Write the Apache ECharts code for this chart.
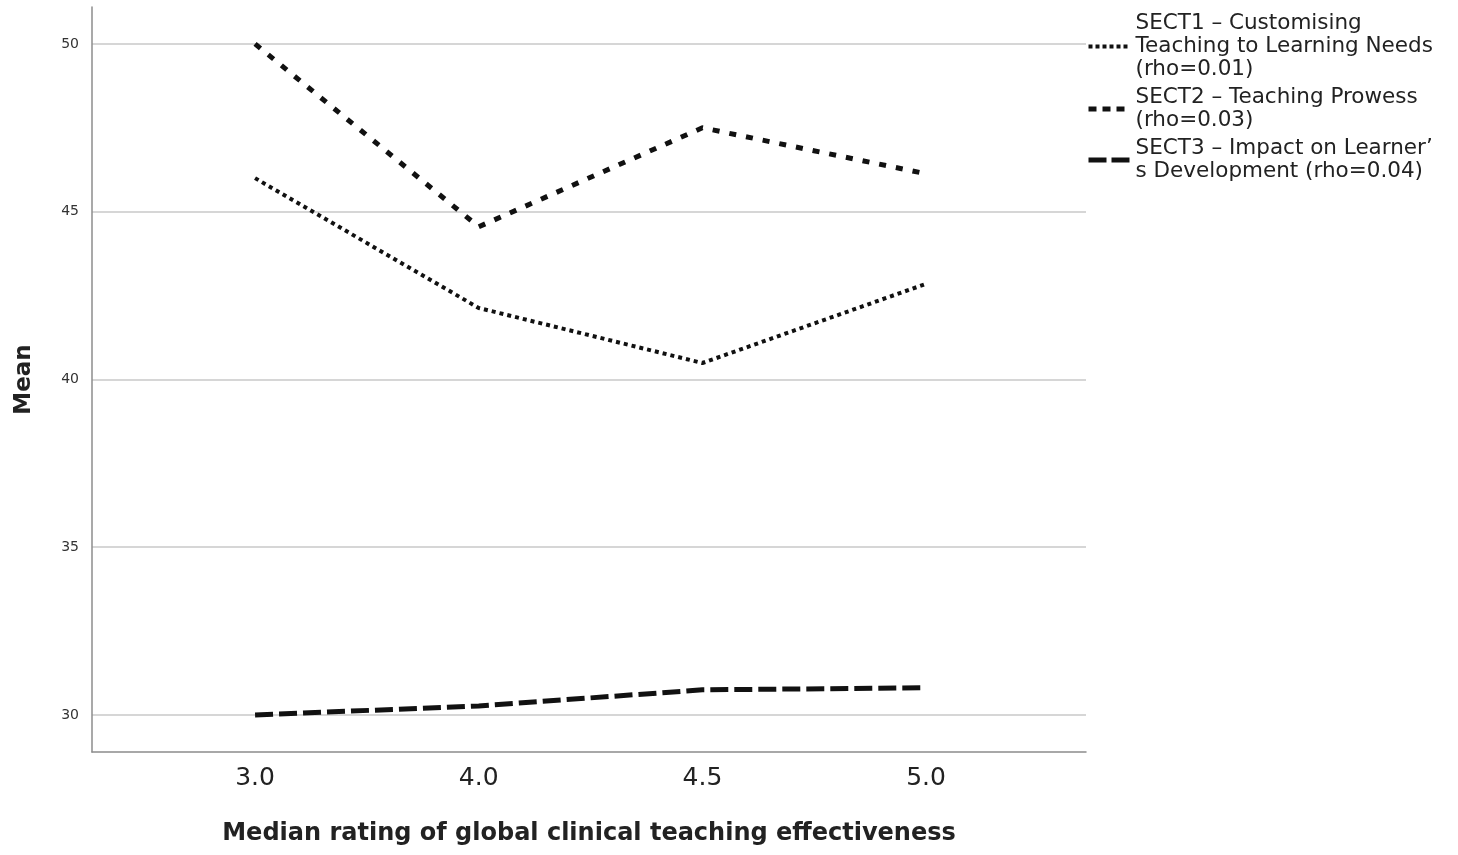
<!DOCTYPE html>
<html>
<head>
<meta charset="utf-8">
<script src="https://cdn.jsdelivr.net/npm/echarts@6/dist/echarts.min.js"></script>
<style>
html,body{margin:0;padding:0;background:#fff;}
#chart{width:1458px;height:855px;}
</style>
</head>
<body>
<div id="chart"></div>
<script>
// ---- data ----
const categories = ["3.0", "4.0", "4.5", "5.0"];
const seriesNames = [
  "SECT1 – Customising\nTeaching to Learning Needs\n(rho=0.01)",
  "SECT2 – Teaching Prowess\n(rho=0.03)",
  "SECT3 – Impact on Learner’\ns Development (rho=0.04)"
];
const sect1 = [46.0, 42.13, 40.49, 42.85];
const sect2 = [50.0, 44.55, 47.5, 46.13];
const sect3 = [30.0, 30.27, 30.75, 30.81];
const yTicks = [30, 35, 40, 45, 50];
const xAxisTitle = "Median rating of global clinical teaching effectiveness";
const yAxisTitle = "Mean";

// ---- styles ----
const FONT = "DejaVu Sans";
const lineStyles = [
  {width: 4, type: [4, 4], color: '#111'},
  {width: 5, type: [7, 10], color: '#111'},
  {width: 5, type: [18, 6], color: '#111'}
];
const legendLineStyles = [
  {width: 4, type: [4, 3], color: '#111'},
  {width: 5, type: [8, 6], color: '#111'},
  {width: 5, type: [18, 5], color: '#111'}
];
const catIdx = categories.map((c, i) => i);
const allValues = [sect1, sect2, sect3];

const chart = echarts.init(document.getElementById('chart'), null, {renderer: 'canvas'});
chart.setOption({
  animation: false,
  backgroundColor: '#fff',
  textStyle: {fontFamily: FONT},
  grid: {left: 92, right: 372, top: 7, bottom: 103, containLabel: false},
  legend: {
    orient: 'vertical',
    left: 1081,
    top: 7,
    itemWidth: 42,
    itemHeight: 14,
    itemGap: 5,
    itemStyle: {opacity: 0},
    textStyle: {fontFamily: FONT, fontSize: 21.5, lineHeight: 23, color: '#222'},
    data: seriesNames.map((n, s) => ({name: n, lineStyle: legendLineStyles[s], itemStyle: {opacity: 0}}))
  },
  xAxis: {
    type: 'value',
    min: -0.729,
    max: 3.715,
    name: xAxisTitle,
    nameLocation: 'middle',
    nameGap: 70,
    nameTextStyle: {fontFamily: FONT, fontSize: 24, fontWeight: 'bold', color: '#222'},
    axisLine: {show: true, onZero: false, lineStyle: {color: '#8c8c8c', width: 1.5}},
    axisTick: {show: false, customValues: catIdx},
    splitLine: {show: false},
    axisLabel: {
      customValues: catIdx,
      formatter: v => categories[Math.round(v)],
      fontFamily: FONT, fontSize: 25, color: '#222', margin: 14
    }
  },
  yAxis: {
    type: 'value',
    min: 28.897,
    max: 51.10,
    name: yAxisTitle,
    nameLocation: 'middle',
    nameGap: 56,
    nameRotate: 90,
    nameTextStyle: {fontFamily: FONT, fontSize: 23, fontWeight: 'bold', color: '#222'},
    axisLine: {show: true, onZero: false, lineStyle: {color: '#8c8c8c', width: 1.5}},
    axisTick: {show: false, customValues: yTicks},
    splitLine: {show: true, lineStyle: {color: '#c8c8c8', width: 1.5}},
    axisLabel: {
      customValues: yTicks,
      fontFamily: FONT, fontSize: 14, color: '#333', margin: 13
    }
  },
  series: allValues.map((vals, s) => ({
    name: seriesNames[s],
    type: 'line',
    symbol: 'none',
    lineStyle: lineStyles[s],
    itemStyle: {color: '#111'},
    data: vals.map((v, i) => [catIdx[i], v])
  }))
});
</script>
</body>
</html>
